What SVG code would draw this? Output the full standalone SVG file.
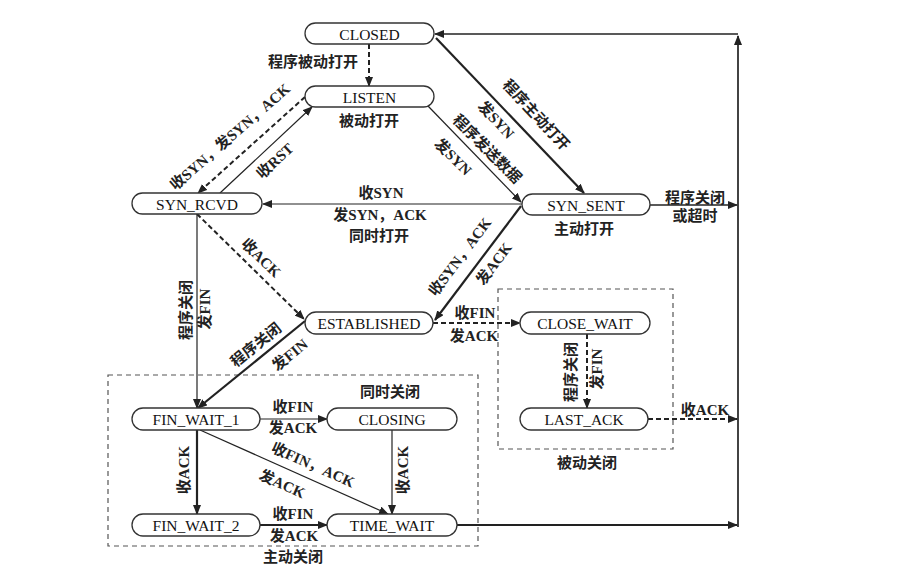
<svg xmlns="http://www.w3.org/2000/svg" width="901" height="578" viewBox="0 0 901 578">
<style>
.node rect{fill:#fff;stroke:#333;stroke-width:1.3}
.node text{font-family:"Liberation Serif","Noto Sans CJK SC",serif;font-size:15.5px;fill:#111;text-anchor:middle;dominant-baseline:central}
.lbl{font-family:"Liberation Serif","Noto Sans CJK SC",serif;font-size:15px;font-weight:bold;fill:#222;text-anchor:middle;dominant-baseline:central}
.c{fill:none;stroke:#222}
.thin{stroke-width:1.2}
.thick{stroke-width:2.2}
.med{stroke-width:1.7}
.dash{stroke-width:2;stroke-dasharray:5 3}
.box{fill:none;stroke:#555;stroke-width:1.2;stroke-dasharray:5 4}
</style>
<defs>
<marker id="ah" markerUnits="userSpaceOnUse" markerWidth="10" markerHeight="8" refX="9" refY="4" orient="auto">
<path d="M0,0 L10,4 L0,8 Z" fill="#222"/>
</marker>
</defs>
<rect width="901" height="578" fill="#fff"/>

<g id="regions">
<rect class="box" x="108" y="375" width="370" height="171"/>
<rect class="box" x="498" y="289" width="175" height="160"/>
<text class="lbl" x="390" y="392">同时关闭</text>
<text class="lbl" x="293" y="557">主动关闭</text>
<text class="lbl" x="587" y="463">被动关闭</text>
</g>

<g id="connectors">
<path class="c dash" d="M369 44 V86" marker-end="url(#ah)"/>
<path class="c dash" d="M305 97 L198 193" marker-end="url(#ah)"/>
<path class="c thin" d="M220 193 L312 107" marker-end="url(#ah)"/>
<path class="c thick" d="M436 38 L584 193" marker-end="url(#ah)"/>
<path class="c thin" d="M428 106 L521 202" marker-end="url(#ah)"/>
<path class="c thin" d="M522 204 L263 204" marker-end="url(#ah)"/>
<path class="c dash" d="M197 214 L304 319" marker-end="url(#ah)"/>
<path class="c thick" d="M521 206 L435 320" marker-end="url(#ah)"/>
<path class="c dash" d="M433 323 L520 323" marker-end="url(#ah)"/>
<path class="c dash" d="M587 334 V408" marker-end="url(#ah)"/>
<path class="c dash" d="M648 419 H737" marker-end="url(#ah)"/>
<path class="c med" d="M650 205 H737" marker-end="url(#ah)"/>
<path class="c thin" d="M197 214 V408" marker-end="url(#ah)"/>
<path class="c thick" d="M305 321 L198 408" marker-end="url(#ah)"/>
<path class="c thin" d="M260 419 H327" marker-end="url(#ah)"/>
<path class="c thick" d="M197 430 V514" marker-end="url(#ah)"/>
<path class="c thin" d="M392 430 V514" marker-end="url(#ah)"/>
<path class="c thin" d="M200 430 L388 514" marker-end="url(#ah)"/>
<path class="c thick" d="M260 525 H327" marker-end="url(#ah)"/>
<path class="c thick" d="M457 525 H737" marker-end="url(#ah)"/>
<path class="c med" d="M738 527 V36" marker-end="url(#ah)"/>
<path class="c med" d="M738 34 H435" marker-end="url(#ah)"/>

<text class="lbl" x="313" y="62">程序被动打开</text>
<text class="lbl" x="369" y="121">被动打开</text>
<text class="lbl" transform="translate(230 137) rotate(-41)">收SYN，发SYN，ACK</text>
<text class="lbl" transform="translate(275 161) rotate(-43)">收RST</text>
<text class="lbl" transform="translate(536 115) rotate(47)">程序主动打开</text>
<text class="lbl" transform="translate(496 120) rotate(47)">发SYN</text>
<text class="lbl" transform="translate(487 149) rotate(45)">程序发送数据</text>
<text class="lbl" transform="translate(453 157) rotate(45)">发SYN</text>
<text class="lbl" x="381" y="193">收SYN</text>
<text class="lbl" x="380" y="215">发SYN，ACK</text>
<text class="lbl" x="379" y="236">同时打开</text>
<text class="lbl" x="584" y="229">主动打开</text>
<text class="lbl" transform="translate(261 258) rotate(44)">收ACK</text>
<text class="lbl" transform="translate(460 257) rotate(-53)">收SYN，ACK</text>
<text class="lbl" transform="translate(494 264) rotate(-53)">发ACK</text>
<text class="lbl" transform="translate(186 310) rotate(-90)">程序关闭</text>
<text class="lbl" transform="translate(205 309) rotate(-90)">发FIN</text>
<text class="lbl" transform="translate(256 345) rotate(-39)">程序关闭</text>
<text class="lbl" transform="translate(290 355) rotate(-39)">发FIN</text>
<text class="lbl" x="475" y="313">收FIN</text>
<text class="lbl" x="474" y="336">发ACK</text>
<text class="lbl" transform="translate(571 372) rotate(-90)">程序关闭</text>
<text class="lbl" transform="translate(597 369) rotate(-90)">发FIN</text>
<text class="lbl" x="705" y="410">收ACK</text>
<text class="lbl" x="695" y="198">程序关闭</text>
<text class="lbl" x="695" y="216">或超时</text>
<text class="lbl" x="293" y="407">收FIN</text>
<text class="lbl" x="293" y="428">发ACK</text>
<text class="lbl" transform="translate(184 470) rotate(-90)">收ACK</text>
<text class="lbl" transform="translate(403 470) rotate(-90)">收ACK</text>
<text class="lbl" transform="translate(313 465) rotate(24)">收FIN，ACK</text>
<text class="lbl" transform="translate(282 484) rotate(24)">发ACK</text>
<text class="lbl" x="293" y="514">收FIN</text>
<text class="lbl" x="294" y="536">发ACK</text>
</g>

<g id="CLOSED" class="node"><rect x="305" y="23" width="129" height="21" rx="10.5"/><text x="369.5" y="34">CLOSED</text></g>
<g id="LISTEN" class="node"><rect x="305" y="86" width="129" height="21" rx="10.5"/><text x="369.5" y="97">LISTEN</text></g>
<g id="SYN_RCVD" class="node"><rect x="132" y="193" width="130" height="21" rx="10.5"/><text x="197" y="204">SYN_RCVD</text></g>
<g id="SYN_SENT" class="node"><rect x="522" y="194" width="128" height="21" rx="10.5"/><text x="586" y="205">SYN_SENT</text></g>
<g id="ESTABLISHED" class="node"><rect x="305" y="312" width="128" height="22" rx="11"/><text x="369" y="323">ESTABLISHED</text></g>
<g id="CLOSE_WAIT" class="node"><rect x="520" y="312" width="130" height="22" rx="11"/><text x="585" y="323">CLOSE_WAIT</text></g>
<g id="LAST_ACK" class="node"><rect x="520" y="408" width="128" height="22" rx="11"/><text x="584" y="419">LAST_ACK</text></g>
<g id="FIN_WAIT_1" class="node"><rect x="132" y="408" width="128" height="22" rx="11"/><text x="196" y="419">FIN_WAIT_1</text></g>
<g id="CLOSING" class="node"><rect x="327" y="408" width="130" height="22" rx="11"/><text x="392" y="419">CLOSING</text></g>
<g id="FIN_WAIT_2" class="node"><rect x="132" y="514" width="128" height="22" rx="11"/><text x="196" y="525">FIN_WAIT_2</text></g>
<g id="TIME_WAIT" class="node"><rect x="327" y="514" width="130" height="22" rx="11"/><text x="392" y="525">TIME_WAIT</text></g>
</svg>
